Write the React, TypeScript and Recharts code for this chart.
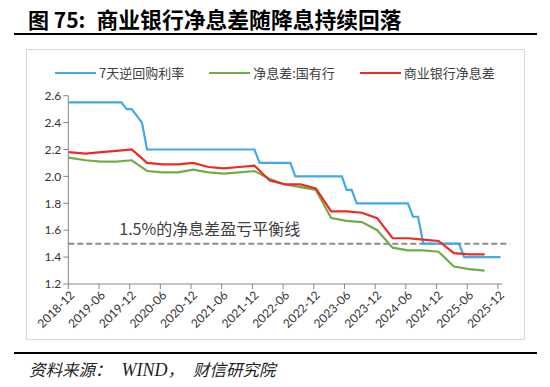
import React from 'react';
import { LineChart, Line, XAxis, YAxis, ReferenceLine, Legend } from 'recharts';

// Month offsets are counted from 2018-12 (0 = 2018-12)
const xTickLabels = ['2018-12', '2019-06', '2019-12', '2020-06', '2020-12', '2021-06', '2021-12', '2022-06', '2022-12', '2023-06', '2023-12', '2024-06', '2024-12', '2025-06', '2025-12'];
const yTicks = [1.2, 1.4, 1.6, 1.8, 2.0, 2.2, 2.4, 2.6];

// 7天逆回购利率 (step knots: month offset, rate)
const repoMonths = [0, 10.4, 11.4, 12.4, 14.4, 15.4, 36.4, 37.4, 43.4, 44.4, 53.5, 54.4, 55.4, 56.4, 66.4, 67.4, 68.4, 69.4, 76.4, 77.4, 84.5];
const repoRates = [2.55, 2.55, 2.5, 2.5, 2.4, 2.2, 2.2, 2.1, 2.1, 2.0, 2.0, 1.9, 1.9, 1.8, 1.8, 1.7, 1.7, 1.5, 1.5, 1.4, 1.4];

// Quarterly NIM, 2018Q4 .. 2025Q3 (month offsets of the quarter points)
const quarterMonths = [0, 3.4, 6.4, 9.4, 12.4, 15.4, 18.4, 21.4, 24.4, 27.4, 30.4, 33.4, 36.4, 39.4, 42.4, 45.4, 48.4, 51.4, 54.4, 57.4, 60.4, 63.4, 66.4, 69.4, 72.4, 75.4, 78.4, 81.4];
const nimStateOwned = [2.14, 2.12, 2.11, 2.11, 2.12, 2.04, 2.03, 2.03, 2.05, 2.03, 2.02, 2.03, 2.04, 1.98, 1.94, 1.92, 1.9, 1.69, 1.67, 1.66, 1.6, 1.47, 1.45, 1.45, 1.44, 1.33, 1.31, 1.3];
const nimCommercial = [2.18, 2.17, 2.18, 2.19, 2.2, 2.1, 2.09, 2.09, 2.1, 2.07, 2.06, 2.07, 2.08, 1.97, 1.94, 1.94, 1.91, 1.74, 1.74, 1.73, 1.69, 1.54, 1.54, 1.53, 1.52, 1.43, 1.42, 1.42];

const breakEven = 1.5;
const breakEvenLabel = '1.5%的净息差盈亏平衡线';

const titlePrefix = '图 75:';
const titleText = '商业银行净息差随降息持续回落';
const sourceParts = ['资料来源：', 'WIND', '，', '财信研究院'];

const seriesNames = ['7天逆回购利率', '净息差:国有行', '商业银行净息差'];
const seriesColors = ['#41A9E8', '#70AD47', '#EE2A24'];

const repoData = repoMonths.map((m, i) => ({ m, v: repoRates[i] }));
const stateData = quarterMonths.map((m, i) => ({ m, v: nimStateOwned[i] }));
const commData = quarterMonths.map((m, i) => ({ m, v: nimCommercial[i] }));
const xTicks = xTickLabels.map((_, i) => i * 6);

const CJK = '"Noto Sans CJK SC", "Noto Sans", sans-serif';
const NUM = 'Lato, "Noto Sans", sans-serif';
const SERIF = '"Liberation Serif", "Noto Sans CJK SC", serif';

const XTick = (props: any) => {
  const { x, y, payload } = props;
  const label = xTickLabels[Math.round(payload.value / 6)];
  return (
    <g transform={`translate(${x + 4},${y + 2})`}>
      <text x={0} y={0} dy="0.35em" textAnchor="end" transform="rotate(-45)" fill="#333" fontSize={12} fontFamily={NUM}>
        {label}
      </text>
    </g>
  );
};

const LegendContent = () => (
  <div style={{ height: 30, display: 'flex', alignItems: 'flex-start', paddingLeft: 28, fontFamily: CJK, fontSize: 13, color: '#404040' }}>
    {seriesNames.map((name, i) => (
      <div key={name} style={{ display: 'flex', alignItems: 'center', height: 14, marginRight: 25 }}>
        <div style={{ width: 41, height: 2.2, background: seriesColors[i], marginRight: 3 }} />
        <span style={{ lineHeight: '14px', whiteSpace: 'nowrap' }}>{name}</span>
      </div>
    ))}
  </div>
);

const BreakEvenLabel = (props: any) => {
  const vb = props.viewBox || {};
  return (
    <text x={(vb.x || 0) + 51} y={(vb.y || 0) - 9} fill="#404040" fontSize={16} fontFamily={CJK}>
      {breakEvenLabel}
    </text>
  );
};

const sourceStyles: React.CSSProperties[] = [
  { fontSize: 16.5 },
  { fontSize: 18, marginLeft: 10 },
  { fontSize: 16.5, marginLeft: 0 },
  { fontSize: 16.5, marginLeft: 9 },
];

export default function App() {
  return (
    <div style={{ position: 'absolute', left: 0, top: 0, width: 550, height: 387, background: '#fff', overflow: 'hidden' }}>
      <div style={{ position: 'absolute', left: 28, top: 5, fontFamily: CJK, fontWeight: 700, fontSize: 21, color: '#000', whiteSpace: 'nowrap', lineHeight: '28px' }}>
        {titlePrefix}
      </div>
      <div style={{ position: 'absolute', left: 96.5, top: 5, fontFamily: CJK, fontWeight: 700, fontSize: 21.8, color: '#000', whiteSpace: 'nowrap', lineHeight: '28px' }}>
        {titleText}
      </div>
      <div style={{ position: 'absolute', left: 14, top: 32.5, width: 523, height: 2.5, background: '#000' }} />
      <div style={{ position: 'absolute', left: 26, top: 49, width: 499, height: 291, border: '1px solid #d9d9d9', boxSizing: 'border-box' }}>
        <LineChart width={497} height={289} margin={{ top: 15.7, right: 22, left: 0, bottom: 0 }}>
          <Legend verticalAlign="top" align="left" content={<LegendContent />} />
          <XAxis
            type="number"
            dataKey="m"
            domain={[0, 84.8]}
            ticks={xTicks}
            tick={<XTick />}
            height={55}
            stroke="#868686"
            tickSize={5}
            interval={0}
            allowDataOverflow
          />
          <YAxis
            type="number"
            domain={[1.2, 2.6]}
            ticks={yTicks}
            width={41.3}
            stroke="#868686"
            tickSize={5}
            tickFormatter={(v: number) => v.toFixed(1)}
            tick={{ fill: '#333', fontSize: 12, fontFamily: NUM }}
            interval={0}
          />
          <ReferenceLine
            ifOverflow="visible"
            segment={[{ x: 0, y: breakEven }, { x: 86.3, y: breakEven }]}
            stroke="#8c8c8c"
            strokeWidth={2}
            strokeDasharray="6 3"
            label={<BreakEvenLabel />}
          />
          <Line data={repoData} dataKey="v" name={seriesNames[0]} stroke={seriesColors[0]} strokeWidth={2.2} dot={false} isAnimationActive={false} type="linear" />
          <Line data={stateData} dataKey="v" name={seriesNames[1]} stroke={seriesColors[1]} strokeWidth={2.2} dot={false} isAnimationActive={false} type="linear" />
          <Line data={commData} dataKey="v" name={seriesNames[2]} stroke={seriesColors[2]} strokeWidth={2.2} dot={false} isAnimationActive={false} type="linear" />
        </LineChart>
      </div>
      <div style={{ position: 'absolute', left: 14, top: 351.5, width: 523, height: 2.5, background: '#000' }} />
      <div style={{ position: 'absolute', left: 29, top: 358.5, fontFamily: SERIF, fontStyle: 'italic', color: '#222', whiteSpace: 'nowrap', lineHeight: '22px' }}>
        {sourceParts.map((p, i) => (
          <span key={i} style={sourceStyles[i]}>{p}</span>
        ))}
      </div>
    </div>
  );
}
